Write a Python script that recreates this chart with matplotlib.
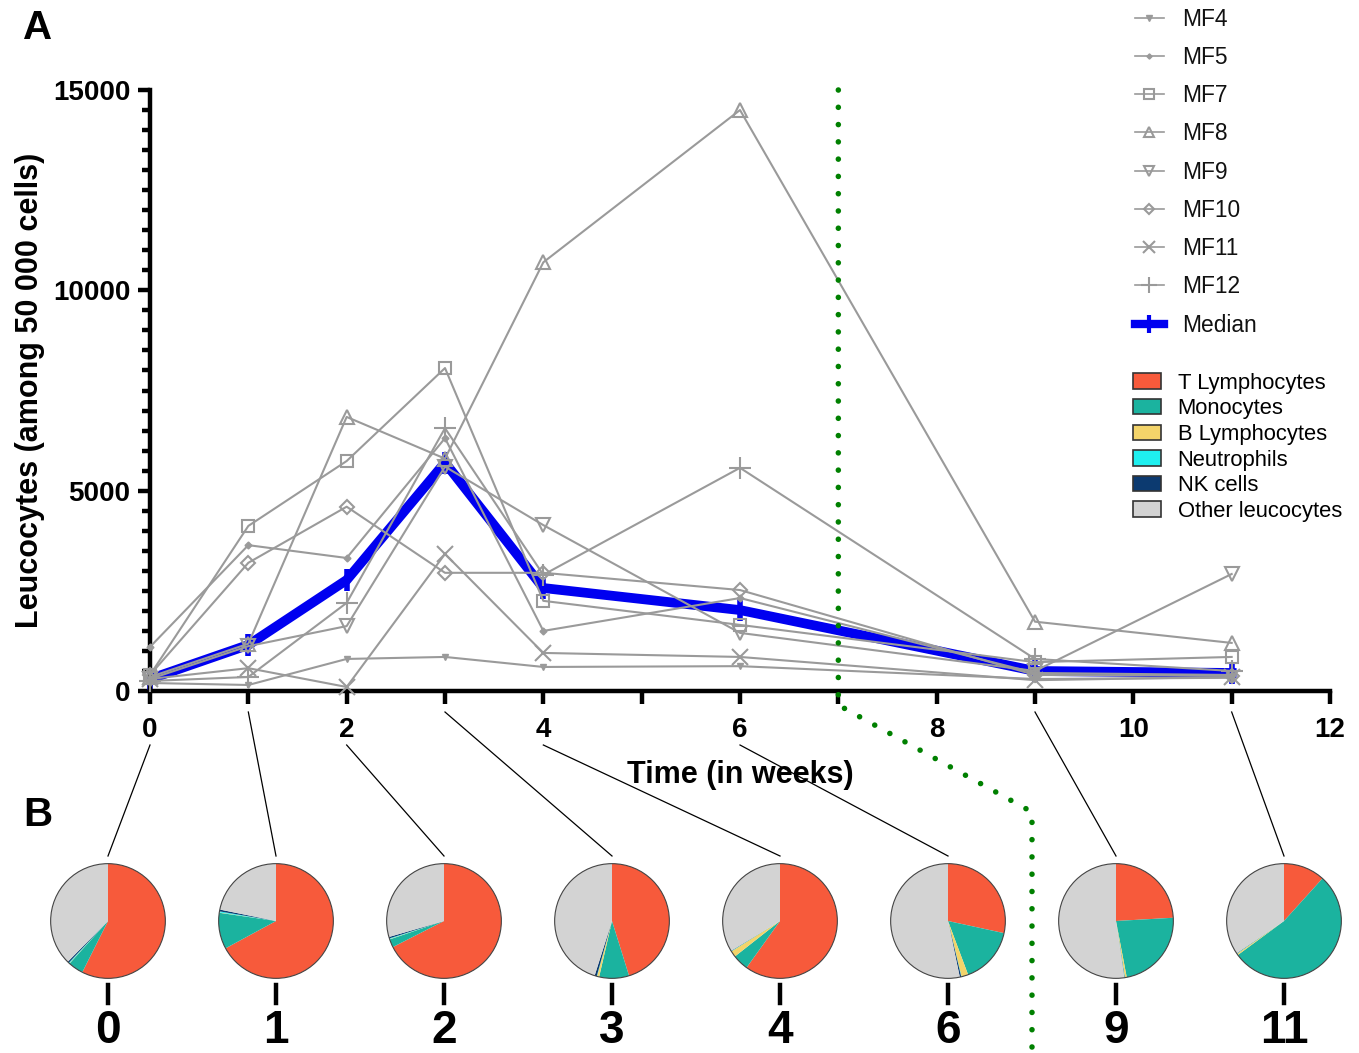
import numpy as np
import matplotlib
matplotlib.use("Agg")
import matplotlib.pyplot as plt
from matplotlib.lines import Line2D
from matplotlib.patches import Patch, Circle
from matplotlib.ticker import MultipleLocator

plt.rcParams['font.family'] = ['Liberation Sans', 'DejaVu Sans']

# time points (weeks)
weeks = [0, 1, 2, 3, 4, 6, 9, 11]

# leucocytes among 50 000 cells, per animal
mf4 = [200, 150, 800, 850, 600, 620, 300, 330]
mf5 = [1100, 3640, 3320, 6310, 1500, 2320, 450, 400]
mf7 = [400, 4120, 5740, 8060, 2250, 1650, 720, 850]
mf8 = [350, 1180, 6840, 5800, 10700, 14500, 1730, 1200]
mf9 = [300, 1120, 1620, 5600, 4140, 1450, 500, 2920]
mf10 = [400, 3200, 4600, 2950, 2950, 2520, 400, 380]
mf11 = [300, 570, 100, 3420, 950, 850, 270, 350]
mf12 = [250, 350, 2200, 6560, 2900, 5570, 800, 500]
median = [300, 1150, 2770, 5700, 2570, 2020, 500, 450]

# pie composition (fractions) per time point
cell_types = ['T Lymphocytes', 'Monocytes', 'B Lymphocytes', 'Neutrophils', 'NK cells', 'Other leucocytes']
t_lympho = [0.574, 0.671, 0.675, 0.452, 0.599, 0.284, 0.241, 0.117]
monocytes = [0.043, 0.102, 0.023, 0.084, 0.045, 0.159, 0.229, 0.532]
b_lympho = [0.001, 0.001, 0.001, 0.006, 0.017, 0.019, 0.005, 0.004]
neutrophils = [0.002, 0.003, 0.002, 0.001, 0.001, 0.001, 0.001, 0.001]
nk_cells = [0.004, 0.005, 0.004, 0.006, 0.001, 0.004, 0.001, 0.001]
other = [0.376, 0.218, 0.295, 0.451, 0.337, 0.533, 0.523, 0.345]

W, H = 1359, 1053
fig = plt.figure(figsize=(W / 100, H / 100), dpi=100)

def fx(px):
    return px / W

def fy(py):
    return 1 - py / H

grey = '#9a9a9a'
series = [
    ('MF4', mf4, dict(marker='v', ms=5, mfc=grey, mec=grey)),
    ('MF5', mf5, dict(marker='D', ms=3.5, mfc=grey, mec=grey)),
    ('MF7', mf7, dict(marker='s', ms=9, mfc='none', mec=grey, mew=1.5)),
    ('MF8', mf8, dict(marker='^', ms=10, mfc='none', mec=grey, mew=1.5)),
    ('MF9', mf9, dict(marker='v', ms=10, mfc='none', mec=grey, mew=1.5)),
    ('MF10', mf10, dict(marker='D', ms=7, mfc='none', mec=grey, mew=1.5)),
    ('MF11', mf11, dict(marker='x', ms=12, mec=grey, mew=1.5)),
    ('MF12', mf12, dict(marker='+', ms=16, mec=grey, mew=1.5)),
]

ax = fig.add_axes([fx(150), fy(691), fx(1330) - fx(150), fy(90) - fy(691)])

ax.plot(weeks, median, color='#0000f0', lw=7, marker='|', ms=16, mew=4,
        clip_on=False, zorder=2)
handles = []
for name, vals, style in series:
    ln, = ax.plot(weeks, vals, color=grey, lw=1.5, clip_on=False, zorder=3, **style)
    handles.append(Line2D([], [], color=grey, lw=1.2,
                          **{k: (v * 0.75 if k == 'ms' else v) for k, v in style.items()}))
handles.append(Line2D([], [], color='#0000f0', lw=6, marker='|', ms=13, mew=3))
labels = [s[0] for s in series] + ['Median']

ax.set_xlim(0, 12)
ax.set_ylim(0, 15000)
ax.xaxis.set_major_locator(MultipleLocator(2))
ax.xaxis.set_minor_locator(MultipleLocator(1))
ax.yaxis.set_major_locator(MultipleLocator(5000))
ax.yaxis.set_minor_locator(MultipleLocator(500))
for s in ['top', 'right']:
    ax.spines[s].set_visible(False)
for s in ['left', 'bottom']:
    ax.spines[s].set_linewidth(3.2)
ax.tick_params(which='major', length=9, width=3.2, labelsize=20)
ax.tick_params(axis='x', which='major', pad=10)
ax.tick_params(axis='y', which='major', pad=5)
ax.tick_params(axis='x', which='minor', length=9, width=3.2)
ax.tick_params(axis='y', which='minor', length=6, width=3.2)
for lab in ax.get_xticklabels() + ax.get_yticklabels():
    lab.set_fontweight('bold')
ax.set_ylabel('Leucocytes (among 50 000 cells)', fontsize=22, fontweight='bold', labelpad=6)
ax.set_xlabel('Time (in weeks)', fontsize=22, fontweight='bold', labelpad=12)

fig.text(fx(38), fy(28), 'A', fontsize=29, fontweight='bold', ha='center', va='center')
fig.text(fx(38), fy(815), 'B', fontsize=29, fontweight='bold', ha='center', va='center')

leg1 = fig.legend(handles, labels, loc='upper left', bbox_to_anchor=(fx(1114), fy(-13)),
                  frameon=False, fontsize=16.4, handlelength=1.3, labelspacing=0.67,
                  handletextpad=0.8)
for t in leg1.get_texts():
    t.set_color('#111111')

colors = ['#f75a3b', '#1bb39f', '#f3d46a', '#1ff0f0', '#0c3a70', '#d3d3d3']
patches = [Patch(facecolor=c, edgecolor='#333333', lw=1.2) for c in colors]
fig.legend(patches, cell_types, loc='upper left', bbox_to_anchor=(fx(1113), fy(353)),
           frameon=False, fontsize=15.8, handlelength=1.27, handleheight=0.7,
           labelspacing=0.21, handletextpad=0.78)

# pies
to_fig = ax.transData + fig.transFigure.inverted()
pie_x = [108, 276, 444, 612, 780, 948, 1116, 1284]
pie_y, pie_d = 921, 117
for i, wk in enumerate(weeks):
    cx = pie_x[i]
    pax = fig.add_axes([fx(cx - pie_d / 2), fy(pie_y + pie_d / 2), pie_d / W, pie_d / H])
    fr = [t_lympho[i], monocytes[i], b_lympho[i], neutrophils[i], nk_cells[i], other[i]]
    pax.pie(fr, colors=colors, startangle=90, counterclock=False,
            wedgeprops=dict(linewidth=0))
    pax.add_patch(Circle((0, 0), 1, fill=False, ec='#444444', lw=0.8))
    pax.set_xlim(-1.02, 1.02)
    pax.set_ylim(-1.02, 1.02)
    pax.set_aspect('equal')
    pax.axis('off')
    # small bar and label under the pie
    fig.add_artist(Line2D([fx(cx), fx(cx)], [fy(985), fy(1003)], color='black', lw=3.2))
    fig.text(fx(cx), fy(1031), str(wk), fontsize=33, fontweight='bold',
             ha='center', va='center')
    # connector from axis tick to pie
    tx, _ = to_fig.transform((wk, 0))
    start_y = fy(745) if wk % 2 == 0 else fy(712)
    fig.add_artist(Line2D([tx, fx(cx)], [start_y, fy(856)], color='black', lw=0.9, zorder=0))

# green dotted separator
gx_top, gy_top = to_fig.transform((7, 15000))
gx_bot, gy_bot = to_fig.transform((7, 0))
fig.add_artist(Line2D([gx_top, gx_bot, gx_bot, fx(1032), fx(1032)],
                      [gy_top, gy_bot, fy(705), fy(812), fy(1060)],
                      color='#008000', lw=4, linestyle=(0, (0.01, 3.1)),
                      dash_capstyle='round', zorder=5))

fig.savefig('out.png', dpi=100)
